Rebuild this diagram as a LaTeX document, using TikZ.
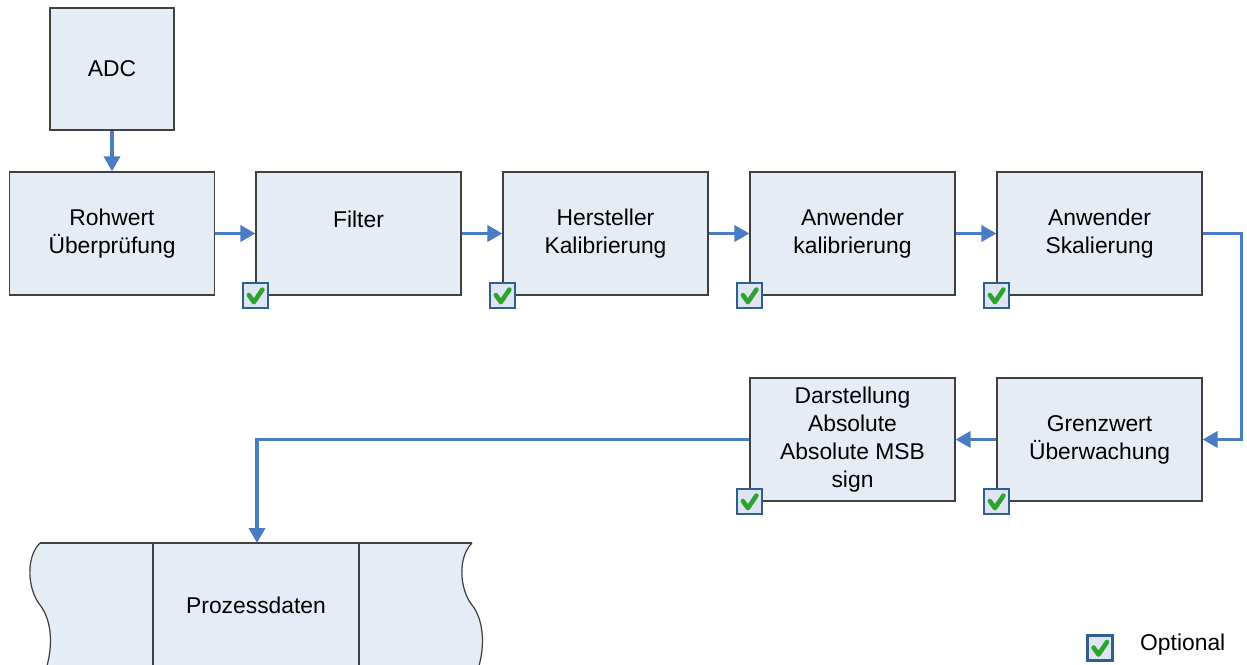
\documentclass[tikz,border=0pt]{standalone}
\usepackage{fontspec}
\setmainfont{Liberation Sans}
\usetikzlibrary{arrows.meta,positioning}
\definecolor{boxfill}{HTML}{E6ECF6}
\definecolor{boxline}{HTML}{404040}
\definecolor{arrblue}{HTML}{4A7CC4}
\definecolor{chkline}{HTML}{2F5F90}
\definecolor{chkfill}{HTML}{DCE5F0}
\definecolor{chkgreen}{HTML}{2EA22E}
\begin{document}
\begin{tikzpicture}[x=0.02cm,y=-0.02cm,
 box/.style={draw=boxline,line width=0.7pt,fill=boxfill,minimum width=4.1cm,minimum height=2.46cm,align=center,font=\fontsize{13}{16}\selectfont},
 arr/.style={draw=arrblue,line width=2pt,-{Triangle[length=0.3cm,width=0.32cm]}},
 chk/.style={draw=chkline,line width=1.3pt,fill=chkfill,minimum size=0.5cm,inner sep=0pt,
  path picture={\draw[chkgreen,line width=2.6pt,line cap=round,line join=round]
   ([shift={(0.12cm,0.01cm)}]path picture bounding box.west) -- ([shift={(-0.03cm,0.12cm)}]path picture bounding box.south)
   -- ([shift={(-0.11cm,-0.13cm)}]path picture bounding box.north east);}}]
\useasboundingbox (0,0) rectangle (1247,665);
\node[box,minimum width=2.48cm,minimum height=2.44cm] (adc) at (112,69) {ADC};
\node[box] (rw) at (112,233.5) {Rohwert\\Überprüfung};
\node[box] (flt) at (358.5,233.5) {Filter\\\mbox{}};
\node[box] (hk) at (605.5,233.5) {Hersteller\\Kalibrierung};
\node[box] (ak) at (852.5,233.5) {Anwender\\kalibrierung};
\node[box] (sk) at (1099.5,233.5) {Anwender\\Skalierung};
\node[box] (gw) at (1099.5,439.5) {Grenzwert\\Überwachung};
\node[box] (ds) at (852.5,439.5) {Darstellung\\Absolute\\Absolute MSB\\sign};
% Prozessdaten
\fill[boxfill] (40,543) -- (472,543) .. controls (457,558) and (460,590) .. (472,605) .. controls (484,620) and (487,650) .. (474,680)
 -- (42,680) .. controls (55,650) and (52,620) .. (40,605) .. controls (28,590) and (25,558) .. (40,543) -- cycle;
\draw[boxline,line width=0.7pt] (40,543) .. controls (25,558) and (28,590) .. (40,605) .. controls (52,620) and (55,650) .. (42,680);
\draw[boxline,line width=0.7pt] (472,543) .. controls (457,558) and (460,590) .. (472,605) .. controls (484,620) and (487,650) .. (474,680);
\draw[boxline,line width=0.7pt] (40,543) -- (472,543) (153,543) -- (153,680) (359,543) -- (359,680);
\node[font=\fontsize{13}{16}\selectfont] (pd) at (256,605) {Prozessdaten};
\coordinate (pdtop) at (257,543);
\draw[arr] (adc)--(rw); \draw[arr] (rw)--(flt); \draw[arr] (flt)--(hk); \draw[arr] (hk)--(ak); \draw[arr] (ak)--(sk);
\draw[arr] (sk.east) -- ++(39,0) |- (gw.east);
\draw[arr] (gw)--(ds);
\draw[arr] (ds.west) -| (pdtop);
\foreach \n in {flt,hk,ak,sk,gw,ds}
 \node[chk] (c-\n) at (\n.south west) {};
% Legende
\node[chk] (c-leg) at (1100,648) {};
\node[font=\fontsize{13}{16}\selectfont,anchor=west] (leg) at (1134,645) {Optional};
\end{tikzpicture}
\end{document}
